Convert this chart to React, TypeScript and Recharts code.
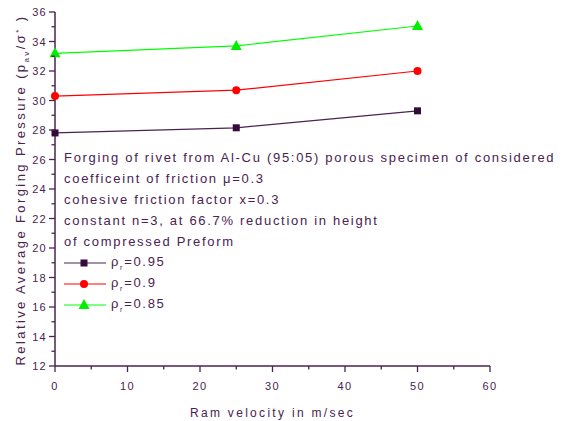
import * as React from 'react';
import { LineChart, Line, XAxis, YAxis, Legend } from 'recharts';

const ramVelocity = [0, 25, 50];
const rho095 = [27.8, 28.15, 29.3];
const rho090 = [30.3, 30.7, 32.0];
const rho085 = [33.2, 33.7, 35.05];

const xTicks = [0, 5, 10, 15, 20, 25, 30, 35, 40, 45, 50, 55, 60];
const yTicks = [12, 13, 14, 15, 16, 17, 18, 19, 20, 21, 22, 23, 24, 25, 26, 27, 28, 29, 30, 31, 32, 33, 34, 35, 36];

const noteLines = [
  'Forging of rivet from Al-Cu (95:05) porous specimen of considered',
  'coefficeint of friction \u03bc=0.3',
  'cohesive friction factor x=0.3',
  'constant n=3, at 66.7% reduction in height',
  'of compressed Preform',
];

const seriesNames = ['0.95', '0.9', '0.85'];

const data = ramVelocity.map((v, i) => ({
  v,
  a: rho095[i],
  b: rho090[i],
  c: rho085[i],
}));

const INK = '#4a2250';
const FONT = 'Arial, "Liberation Sans", sans-serif';

const series = [
  { key: 'a', color: '#4a2250', fill: '#330a3a', shape: 'square' },
  { key: 'b', color: '#ff0000', fill: '#ff0000', shape: 'circle' },
  { key: 'c', color: '#00ff00', fill: '#00ee00', shape: 'triangle' },
];

function Marker({ cx, cy, shape, fill }: any) {
  if (cx == null || cy == null) return null;
  if (shape === 'square') return <rect x={cx - 3.5} y={cy - 3.5} width={7} height={7} fill={fill} />;
  if (shape === 'circle') return <circle cx={cx} cy={cy} r={4} fill={fill} />;
  return <polygon points={`${cx},${cy - 6} ${cx + 5.5},${cy + 4} ${cx - 5.5},${cy + 4}`} fill={fill} />;
}

const YTick = ({ x, y, payload }: any) => {
  const major = payload.value % 2 === 0;
  return (
    <g>
      <line x1={x - (major ? 6 : 3.5)} x2={x} y1={y} y2={y} stroke={INK} strokeWidth={1.3} />
      {major && (
        <text x={x - 8} y={y + 4} textAnchor="end" fill={INK} fontSize={11} style={{ letterSpacing: 1.3 }} fontFamily={FONT}>
          {payload.value}
        </text>
      )}
    </g>
  );
};

const XTick = ({ x, y, payload }: any) => {
  const major = payload.value % 10 === 0;
  return (
    <g>
      <line x1={x} x2={x} y1={y} y2={y + (major ? 6 : 3.5)} stroke={INK} strokeWidth={1.3} />
      {major && (
        <text x={x} y={y + 24} textAnchor="middle" fill={INK} fontSize={11} style={{ letterSpacing: 1.3 }} fontFamily={FONT}>
          {payload.value}
        </text>
      )}
    </g>
  );
};

const YLabel = () => {
  const cx = 25;
  const cy = 190;
  return (
    <text
      x={cx}
      y={cy}
      transform={`rotate(-90, ${cx}, ${cy})`}
      textAnchor="middle"
      fill={INK}
      fontSize={13}
      fontFamily={FONT}
      style={{ letterSpacing: 2.4 }}
    >
      Relative Average Forging Pressure (p
      <tspan fontSize={8} dy={4}>av</tspan>
      <tspan dy={-4}>/σ</tspan>
      <tspan fontSize={8} dy={-4}>*</tspan>
      <tspan dy={4}> )</tspan>
    </text>
  );
};

const NoteAndLegend = () => (
  <div style={{ fontFamily: FONT, color: INK, fontSize: 13, letterSpacing: 1.7 }}>
    {noteLines.map((t) => (
      <div key={t} style={{ height: 21, lineHeight: '21px', whiteSpace: 'nowrap' }}>{t}</div>
    ))}
    {series.map((s, i) => (
      <div key={s.key} style={{ height: 21, display: 'flex', alignItems: 'center' }}>
        <svg width={44} height={14} style={{ marginRight: 3 }}>
          <line x1={0} x2={42} y1={7} y2={7} stroke={s.color} strokeWidth={1.2} />
          <Marker cx={20} cy={7} shape={s.shape} fill={s.fill} />
        </svg>
        <span>
          ρ<sub style={{ fontSize: 7 }}>r</sub>={seriesNames[i]}
        </span>
      </div>
    ))}
  </div>
);

export default function App() {
  return (
    <div style={{ position: 'absolute', left: 0, top: 0, width: 571, height: 421, background: '#fff' }}>
      <LineChart width={571} height={421} data={data} margin={{ top: 12, right: 81, left: 10, bottom: 25 }}>
        <XAxis
          dataKey="v"
          type="number"
          domain={[0, 60]}
          ticks={xTicks}
          interval={0}
          tickLine={false}
          tickSize={0}
          tickMargin={0}
          tick={<XTick />}
          stroke={INK}
          strokeWidth={1.5}
          height={30}
          label={{
            value: 'Ram velocity in m/sec',
            position: 'bottom',
            offset: 12,
            fill: INK,
            fontSize: 12,
            fontFamily: FONT,
            style: { letterSpacing: 2.3 },
          }}
        />
        <YAxis
          type="number"
          domain={[12, 36]}
          ticks={yTicks}
          interval={0}
          tickLine={false}
          tickSize={0}
          tickMargin={0}
          tick={<YTick />}
          stroke={INK}
          strokeWidth={1.5}
          width={45}
          label={<YLabel />}
        />
        <Legend
          verticalAlign="middle"
          align="center"
          layout="horizontal"
          content={() => <NoteAndLegend />}
          wrapperStyle={{ position: 'absolute', left: 64, top: 147, width: 505 }}
        />
        {series.map((s) => (
          <Line
            key={s.key}
            dataKey={s.key}
            type="linear"
            stroke={s.color}
            strokeWidth={1.2}
            isAnimationActive={false}
            dot={(p: any) => <Marker key={`${s.key}-${p.index}`} cx={p.cx} cy={p.cy} shape={s.shape} fill={s.fill} />}
            activeDot={false}
          />
        ))}
      </LineChart>
    </div>
  );
}
